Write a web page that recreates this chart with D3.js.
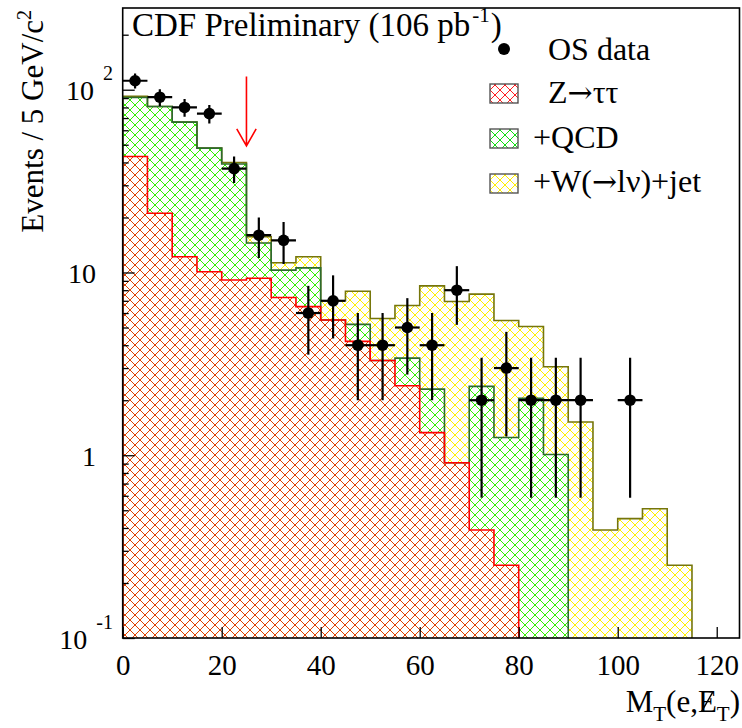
<!DOCTYPE html>
<html>
<head>
<meta charset="utf-8">
<script src="https://cdn.jsdelivr.net/npm/d3@7"></script>
<style>
body { margin: 0; background: #fff; }
text { font-family: "Liberation Serif", "Times New Roman", serif; fill: #000; }
.arr { font-family: "DejaVu Serif", serif; }
</style>
</head>
<body>
<svg id="chart" width="742" height="728"></svg>
<script>
// 5 GeV bins, low edges
var binEdges = [0, 5, 10, 15, 20, 25, 30, 35, 40, 45, 50, 55, 60, 65, 70, 75, 80, 85, 90, 95, 100, 105, 110, 115];
var binWidth = 5;
// Z -> tautau
var zTauTau = [43.1, 21.1, 12.2, 10.1, 9.1, 9.3, 7.3, 6.5, 5.5, 4.2, 3.3, 2.4, 1.33, 0.91, 0.39, 0.25];
// Z -> tautau + QCD
var zPlusQcd = [90.6, 80.9, 66.5, 47.9, 39.2, 14.5, 10.3, 10.6, 5.5, 5.2, 3.3, 3.4, 2.3, 0.91, 2.38, 1.25, 2.05, 1.01];
// Z -> tautau + QCD + W(->lnu)+jet
var zPlusQcdPlusW = [92, 81, 66.5, 48, 40, 15.7, 11.3, 12.2, 7.0, 7.9, 5.6, 6.6, 8.45, 6.94, 7.61, 5.46, 5.06, 3.05, 1.52, 0.39, 0.45, 0.51, 0.25];
// OS data
var dataMt = [2.5, 7.5, 12.5, 17.5, 22.5, 27.5, 32.5, 37.5, 42.5, 47.5, 52.5, 57.5, 62.5, 67.5, 72.5, 77.5, 82.5, 87.5, 92.5, 102.5];
var dataCounts = [112, 91, 80, 74, 37, 16, 15, 6, 7, 4, 4, 5, 4, 8, 2, 3, 2, 2, 2, 2];
// axis ticks
var xTicks = [0, 20, 40, 60, 80, 100, 120];
var yTicks = [0.1, 1, 10, 100];
var yTickBase = ["10", "1", "10", "10"];
var yTickExp = ["-1", "", "", "2"];
var yMinorTicks = [0.2, 0.3, 0.4, 0.5, 0.6, 0.7, 0.8, 0.9, 2, 3, 4, 5, 6, 7, 8, 9, 20, 30, 40, 50, 60, 70, 80, 90, 200];
// cut arrow
var cutValue = 25;
var arrowFrom = 118, arrowTo = 49.3;

var yMin = 0.1, yMax = 280;
var plot = { left: 122.7, right: 739.5, top: 8, bottom: 638 };

var svg = d3.select("#chart");

var xScale = d3.scaleLinear().domain([0, 124.6]).range([plot.left, plot.right]);
var yScale = d3.scaleLog().domain([yMin, yMax]).range([plot.bottom, plot.top]);

// hatch patterns: 1px stair-step crosshatch like ROOT's fill style
var defs = svg.append("defs");
var hatchPx = d3.range(10);
function addHatch(id, color) {
    var p = defs.append("pattern")
        .attr("id", id)
        .attr("patternUnits", "userSpaceOnUse")
        .attr("width", 10)
        .attr("height", 10);
    p.selectAll("rect.a").data(hatchPx).enter().append("rect")
        .attr("x", function (i) { return i; }).attr("y", function (i) { return i; })
        .attr("width", 1).attr("height", 1)
        .attr("fill", color).attr("shape-rendering", "crispEdges");
    p.selectAll("rect.b").data(hatchPx).enter().append("rect")
        .attr("x", function (i) { return 9 - i; }).attr("y", function (i) { return i; })
        .attr("width", 1).attr("height", 1)
        .attr("fill", color).attr("shape-rendering", "crispEdges");
}
addHatch("hatchW", "#ffee00");
addHatch("hatchQ", "#33ee00");
addHatch("hatchZ", "#dd4400");
addHatch("legZ", "#ff2020");
addHatch("legQ", "#11dd11");
addHatch("legW", "#ffee00");

defs.append("clipPath").attr("id", "plotClip")
    .append("rect")
    .attr("x", plot.left).attr("y", plot.top)
    .attr("width", plot.right - plot.left).attr("height", plot.bottom - plot.top);

var plotArea = svg.append("g").attr("clip-path", "url(#plotClip)");

function histPoints(vals) {
    var pts = [[binEdges[0], yMin]];
    vals.forEach(function (v, i) {
        pts.push([binEdges[i], v]);
    });
    pts.push([binEdges[vals.length], vals[vals.length - 1]]);
    pts.push([binEdges[vals.length], yMin]);
    return pts;
}

var histLine = d3.line()
    .curve(d3.curveStepAfter)
    .x(function (d) { return xScale(d[0]); })
    .y(function (d) { return yScale(Math.max(d[1], yMin)); });

var hists = [
    { vals: zPlusQcdPlusW, fill: "url(#hatchW)", line: "#76760a" },
    { vals: zPlusQcd, fill: "url(#hatchQ)", line: "#2d6b2d" },
    { vals: zTauTau, fill: "url(#hatchZ)", line: "#ff0000" }
];
hists.forEach(function (h) {
    var pts = histPoints(h.vals);
    plotArea.append("path")
        .attr("d", histLine(pts) + "Z")
        .attr("fill", h.fill)
        .attr("stroke", "none");
    plotArea.append("path")
        .attr("d", histLine(pts))
        .attr("fill", "none")
        .attr("stroke", h.line)
        .attr("stroke-width", 1.6);
});

// data points with poisson errors
var points = plotArea.selectAll(".pt")
    .data(dataMt.map(function (m, i) { return { mt: m, n: dataCounts[i] }; }))
    .enter()
    .append("g")
    .attr("class", "pt");
points.append("line")
    .attr("x1", function (d) { return xScale(d.mt - binWidth / 2); })
    .attr("x2", function (d) { return xScale(d.mt + binWidth / 2); })
    .attr("y1", function (d) { return yScale(d.n); })
    .attr("y2", function (d) { return yScale(d.n); })
    .attr("stroke", "#000").attr("stroke-width", 2.2);
points.append("line")
    .attr("x1", function (d) { return xScale(d.mt); })
    .attr("x2", function (d) { return xScale(d.mt); })
    .attr("y1", function (d) { return yScale(d.n + Math.sqrt(d.n)); })
    .attr("y2", function (d) { return yScale(Math.max(d.n - Math.sqrt(d.n), yMin)); })
    .attr("stroke", "#000").attr("stroke-width", 2.2);
points.append("circle")
    .attr("cx", function (d) { return xScale(d.mt); })
    .attr("cy", function (d) { return yScale(d.n); })
    .attr("r", 5.8)
    .attr("fill", "#000");

// arrow at the cut
var ax = xScale(cutValue), ay1 = yScale(arrowFrom), ay2 = yScale(arrowTo);
svg.append("path")
    .attr("d", "M" + ax + "," + ay1 + "V" + ay2 + "M" + (ax - 9.7) + "," + (ay2 - 17) + "L" + ax + "," + ay2 + "L" + (ax + 9.7) + "," + (ay2 - 17))
    .attr("fill", "none")
    .attr("stroke", "#ff0000")
    .attr("stroke-width", 1.6);

// axes
var xAxis = d3.axisBottom(xScale).tickValues(xTicks).tickSize(-11).tickPadding(16);
var gx = svg.append("g")
    .attr("transform", "translate(0," + plot.bottom + ")")
    .call(xAxis);
gx.select(".domain").remove();
gx.selectAll("line").attr("stroke", "#000").attr("stroke-width", 1.3);
gx.selectAll("text").style("font-size", "29px").attr("font-family", null);

var gyMinor = svg.append("g")
    .attr("transform", "translate(" + plot.left + ",0)")
    .call(d3.axisLeft(yScale).tickValues(yMinorTicks).tickSize(-6).tickFormat(""));
gyMinor.select(".domain").remove();
gyMinor.selectAll("line").attr("stroke", "#000").attr("stroke-width", 1.3);

var gy = svg.append("g")
    .attr("transform", "translate(" + plot.left + ",0)")
    .call(d3.axisLeft(yScale).tickValues(yTicks).tickSize(-12).tickFormat(""));
gy.select(".domain").remove();
gy.selectAll("line").attr("stroke", "#000").attr("stroke-width", 1.3);

yTicks.forEach(function (t, i) {
    var y = yScale(t);
    if (yTickExp[i] === "") {
        svg.append("text")
            .attr("x", 96).attr("y", y + 10.5)
            .attr("text-anchor", "end")
            .style("font-size", "28px")
            .text(yTickBase[i]);
    } else {
        var lbl = svg.append("text")
            .attr("x", 113).attr("y", y + 10.5)
            .attr("text-anchor", "end")
            .style("font-size", "28px");
        lbl.append("tspan").text(yTickBase[i]);
        lbl.append("tspan")
            .attr("dx", 9).attr("dy", -20)
            .style("font-size", "20px")
            .text(yTickExp[i]);
    }
});

// frame
svg.append("rect")
    .attr("x", plot.left).attr("y", plot.top)
    .attr("width", plot.right - plot.left).attr("height", plot.bottom - plot.top)
    .attr("fill", "none")
    .attr("stroke", "#000")
    .attr("stroke-width", 1.6);

// y title
var yTitle = svg.append("text")
    .attr("transform", "translate(43,10) rotate(-90)")
    .attr("text-anchor", "end")
    .style("font-size", "31px");
yTitle.append("tspan").text("Events / 5 GeV/c");
yTitle.append("tspan").attr("dy", -12).style("font-size", "20px").text("2");

// x title
var xTitle = svg.append("text")
    .attr("x", 740).attr("y", 712)
    .attr("text-anchor", "end")
    .style("font-size", "31px");
xTitle.append("tspan").text("M");
xTitle.append("tspan").attr("dy", 9).style("font-size", "21px").text("T");
xTitle.append("tspan").attr("dy", -9).text("(e,");
xTitle.append("tspan").text("E");
xTitle.append("tspan").attr("dy", 9).style("font-size", "21px").text("T");
xTitle.append("tspan").attr("dy", -9).text(")");
var eBox = xTitle.node().getExtentOfChar(5);
svg.append("line")
    .attr("x1", eBox.x + eBox.width * 0.2).attr("y1", eBox.y + eBox.height * 0.78)
    .attr("x2", eBox.x + eBox.width * 0.8).attr("y2", eBox.y + eBox.height * 0.22)
    .attr("stroke", "#000").attr("stroke-width", 1.4);

// header
var title = svg.append("text")
    .attr("x", 132).attr("y", 36)
    .style("font-size", "33px");
title.append("tspan").text("CDF Preliminary (106 pb");
title.append("tspan").attr("dx", 2).attr("dy", -14).style("font-size", "21px").text("-1");
title.append("tspan").attr("dx", 1).attr("dy", 14).text(")");

// legend
svg.append("circle").attr("cx", 504).attr("cy", 49).attr("r", 6).attr("fill", "#000");
svg.append("text").attr("x", 548).attr("y", 60).style("font-size", "32px").text("OS data");
var legendRows = [
    { fill: "url(#legZ)", y: 84, pre: "Z", post: "\u03c4\u03c4", tx: 548, ty: 103 },
    { fill: "url(#legQ)", y: 129, pre: "+QCD", post: "", tx: 533, ty: 148 },
    { fill: "url(#legW)", y: 174, pre: "+W(", post: "l\u03bd)+jet", tx: 533, ty: 192 }
];
legendRows.forEach(function (r) {
    svg.append("rect")
        .attr("x", 490).attr("y", r.y)
        .attr("width", 28).attr("height", 19)
        .attr("fill", r.fill)
        .attr("stroke", "#555").attr("stroke-width", 1.4);
    var t = svg.append("text").attr("x", r.tx).attr("y", r.ty).style("font-size", "32px");
    t.append("tspan").text(r.pre);
    if (r.post !== "") {
        t.append("tspan").attr("class", "arr").style("font-size", "30px").text("\u2192");
        t.append("tspan").text(r.post);
    }
});
</script>
</body>
</html>
